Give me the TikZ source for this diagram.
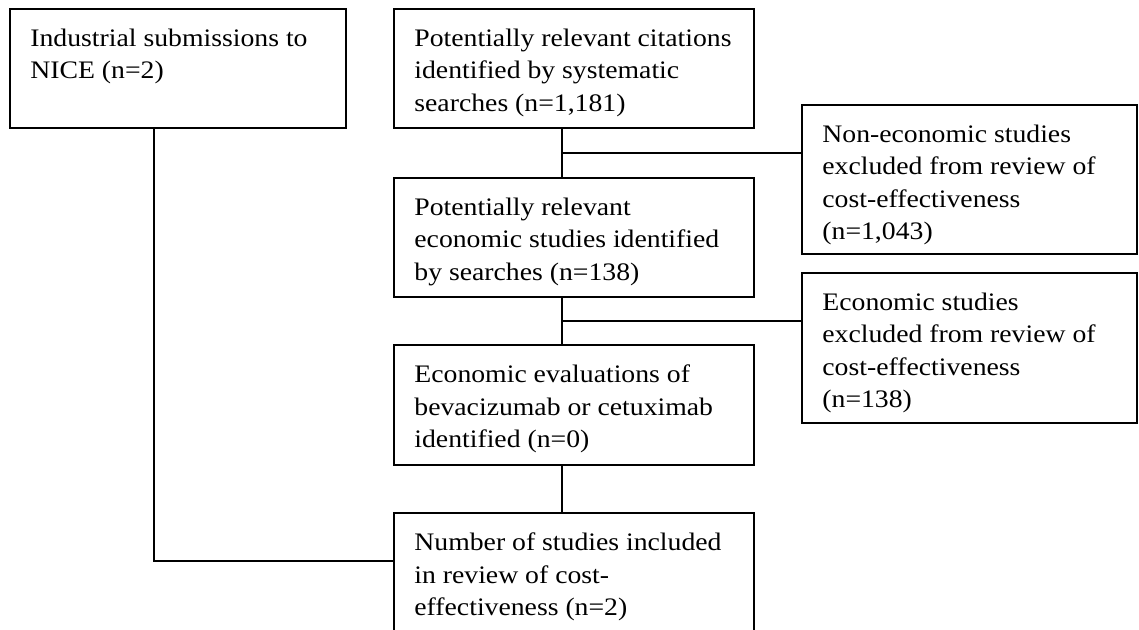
\documentclass[tikz,border=0pt]{standalone}
\usepackage{fontspec}
\setmainfont{Liberation Serif}[FakeStretch=1.10]
\usetikzlibrary{positioning,calc}

\tikzset{
  box/.style={draw, line width=1pt, anchor=north west, inner sep=0pt, outer sep=0pt},
  boxtext/.style={anchor=north west, align=left, inner sep=0pt,
    font=\fontsize{12.6}{16.15}\selectfont},
  link/.style={line width=1pt},
}

\begin{document}
\begin{tikzpicture}[x=0.5pt, y=-0.5pt]
% 1 unit = 1 px of the 1139x630 layout, y downwards
\def\px{0.5pt}
\useasboundingbox (0,0) rectangle (1139,630);
\clip (0,0) rectangle (1139,630);
% boxes
\node[box, minimum width=336*\px, minimum height=119*\px] (ind) at (10,9) {};
\node[box, minimum width=360*\px, minimum height=119*\px] (cit) at (394,9) {};
\node[box, minimum width=335*\px, minimum height=149*\px] (noneco) at (802,105) {};
\node[box, minimum width=360*\px, minimum height=119*\px] (econ) at (394,178) {};
\node[box, minimum width=335*\px, minimum height=150*\px] (excl) at (802,273) {};
\node[box, minimum width=360*\px, minimum height=120*\px] (eval) at (394,345) {};
\node[box, minimum width=360*\px, minimum height=140*\px] (incl) at (394,513) {};
% texts, top-left of each box
\node[boxtext] (indtxt) at ($(ind.north west)+(20,19.8)$) {Industrial submissions to\\NICE (n=2)};
\node[boxtext] (cittxt) at ($(cit.north west)+(20,19.8)$) {Potentially relevant citations\\identified by systematic\\searches (n=1,181)};
\node[boxtext] (nonecotxt) at ($(noneco.north west)+(20,19.8)$) {Non-economic studies\\excluded from review of\\cost-effectiveness\\(n=1,043)};
\node[boxtext] (econtxt) at ($(econ.north west)+(20,19.8)$) {Potentially relevant\\economic studies identified\\by searches (n=138)};
\node[boxtext] (excltxt) at ($(excl.north west)+(20,19.8)$) {Economic studies\\excluded from review of\\cost-effectiveness\\(n=138)};
\node[boxtext] (evaltxt) at ($(eval.north west)+(20,19.8)$) {Economic evaluations of\\bevacizumab or cetuximab\\identified (n=0)};
\node[boxtext] (incltxt) at ($(incl.north west)+(20,19.8)$) {Number of studies included\\in review of cost-\\effectiveness (n=2)};
% connectors
\coordinate (spine) at (562,0);
\coordinate (cut1) at (562,153);
\coordinate (cut2) at (562,321.5);
\coordinate (join) at (154,561);
\draw[link] (cit.south -| spine) -- (econ.north -| spine);
\draw[link] (econ.south -| spine) -- (eval.north -| spine);
\draw[link] (eval.south -| spine) -- (incl.north -| spine);
\draw[link] (cut1) -- (cut1 -| noneco.west);
\draw[link] (cut2) -- (cut2 -| excl.west);
\draw[link] (ind.south -| join) -- (join) -- (join -| incl.west);
\end{tikzpicture}
\end{document}
